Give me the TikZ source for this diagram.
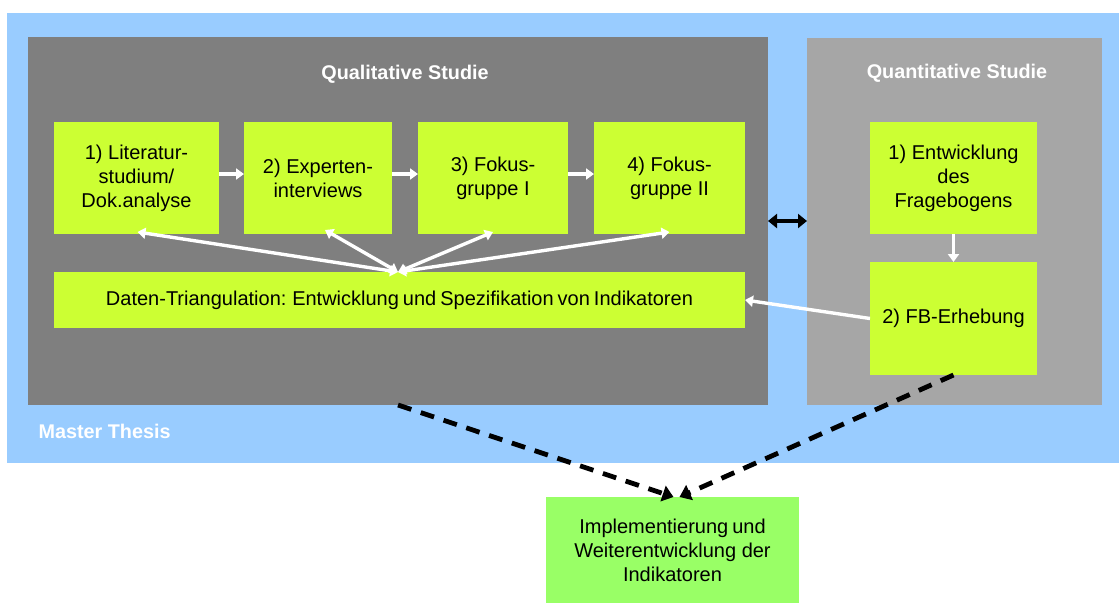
\documentclass[tikz,border=0pt]{standalone}
\usepackage{fontspec}
\setmainfont{Liberation Sans}
\usetikzlibrary{arrows.meta}
\definecolor{thesisblue}{HTML}{99CCFF}
\definecolor{qualgray}{HTML}{7F7F7F}
\definecolor{quantgray}{HTML}{A6A6A6}
\definecolor{stepgreen}{HTML}{CCFF33}
\definecolor{resultgreen}{HTML}{99FF66}
\begin{document}
\begin{tikzpicture}[x=1pt,y=-1pt,
  area/.style={draw=none,inner sep=0pt,outer sep=0pt},
  stepbox/.style={fill=stepgreen,draw=none,inner sep=2pt,outer sep=0pt,
    align=center,font=\fontsize{20}{24}\selectfont,minimum height=112pt},
  title/.style={text=white,font=\fontsize{19.8}{22}\selectfont\bfseries},
  warrow/.style={draw=white,line width=3.4pt,-{Triangle[length=8pt,width=11pt]}},
  wdarrow/.style={draw=white,line width=3.4pt,{Triangle[length=8pt,width=11pt]}-{Triangle[length=8pt,width=11pt]}},
  barrow/.style={draw=black,line width=4pt,{Triangle[length=9pt,width=14pt]}-{Triangle[length=9pt,width=14pt]}},
  darrow/.style={draw=black,line width=4.8pt,dash pattern=on 14pt off 10pt,-{Triangle[length=11pt,width=16pt]}}
]
\useasboundingbox (0,0) rectangle (1119,603);
% containers
\fill[thesisblue] (7,13) rectangle (1119,463);
\node[area,fill=qualgray,minimum width=740pt,minimum height=368pt] (qual) at (398,221) {};
\node[area,fill=quantgray,minimum width=295pt,minimum height=367pt] (quant) at (954.5,221.5) {};
\node[title] (qualtitle) at (405,74) {Qualitative Studie};
\node[title] (quanttitle) at (957,73) {Quantitative Studie};
\node[title,anchor=west] (thesis) at (35,431) {Master Thesis};
% qualitative steps
\node[stepbox,minimum width=165pt] (l1) at (136.5,178) {1) Literatur-\\studium/\\Dok.analyse};
\node[stepbox,minimum width=148pt] (l2) at (318,178) {2) Experten-\\interviews};
\node[stepbox,minimum width=150pt] (l3) at (493,178) {3) Fokus-\\gruppe I};
\node[stepbox,minimum width=151pt] (l4) at (669.5,178) {4) Fokus-\\gruppe II};
\node[stepbox,minimum width=691pt,minimum height=56pt] (dt) at (399.5,300)
  {\spaceskip=0.2em plus 0.1em Daten-Triangulation: Entwicklung und Spezifikation von Indikatoren};
% quantitative steps
\node[stepbox,minimum width=167pt] (q1) at (953.5,178) {1) Entwicklung\\des\\Fragebogens};
\node[stepbox,minimum width=167pt,minimum height=113pt] (q2) at (953.5,318.5) {2) FB-Erhebung};
% result
\node[stepbox,fill=resultgreen,minimum width=253pt,minimum height=106pt] (impl) at (672.5,550)
  {\spaceskip=0.2em plus 0.1em Implementierung und\\Weiterentwicklung der\\Indikatoren};
% sequence arrows
\draw[warrow] ([yshift=4pt]l1.east) -- ([yshift=4pt]l2.west);
\draw[warrow] ([yshift=4pt]l2.east) -- ([yshift=4pt]l3.west);
\draw[warrow] ([yshift=4pt]l3.east) -- ([yshift=4pt]l4.west);
\draw[warrow] (q1.south) -- (q2.north);
\draw[warrow] (q2.west) -- (dt.east);
% triangulation links
\coordinate (hub) at (398,272);
\draw[wdarrow] (hub) -- ([xshift=1pt,yshift=2pt]l1.south);
\draw[wdarrow] (hub) -- ([xshift=7pt,yshift=4pt]l2.south);
\draw[wdarrow] (hub) -- ([yshift=2pt]l3.south);
\draw[wdarrow] (hub) -- ([yshift=2pt]l4.south);
% link between the two studies
\draw[barrow] (qual.east |- 0,221) -- (quant.west |- 0,221);
% outcome arrows
\draw[darrow] (qual.south) -- ([xshift=1pt]impl.north);
\draw[darrow] (q2.south) -- ([xshift=7pt]impl.north);
\end{tikzpicture}
\end{document}
